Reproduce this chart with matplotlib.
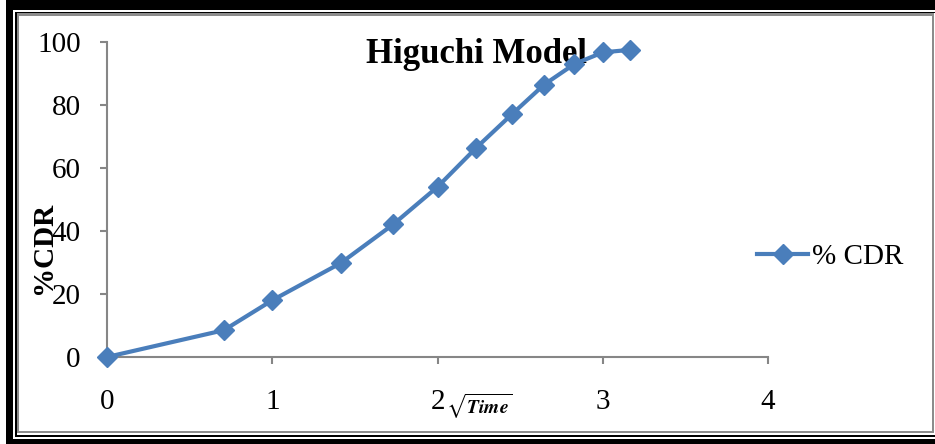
import matplotlib
matplotlib.use("Agg")
import matplotlib.pyplot as plt
from matplotlib.patches import Rectangle
import numpy as np

# ---- data ----
sqrt_time = [0, 0.707, 1, 1.414, 1.732, 2, 2.236, 2.449, 2.646, 2.828, 3, 3.162]
cdr = [0, 8.5, 18, 29.8, 42.1, 54, 66.5, 77, 86.5, 93, 96.7, 97.5]
x_ticks = [0, 1, 2, 3, 4]
y_ticks = [0, 20, 40, 60, 80, 100]
title = "Higuchi Model"
series_label = "% CDR"
y_label = "%CDR"
x_label = r"$\sqrt{\mathbfit{Time}}$"

W, H = 935, 444
plt.rcParams['font.family'] = ['Liberation Serif', 'DejaVu Serif']
plt.rcParams['mathtext.fontset'] = 'stix'

fig = plt.figure(figsize=(W / 100, H / 100), dpi=100)
fig.patch.set_facecolor('white')


def fx(px):
    return px / W


def fy(py):
    return 1 - py / H


def rect(x0, y0, x1, y1, color, z):
    fig.add_artist(Rectangle((fx(x0), fy(y1)), fx(x1) - fx(x0), fy(y0) - fy(y1),
                             transform=fig.transFigure, facecolor=color,
                             edgecolor='none', zorder=z))


# frame layers
rect(6, 0, 935, 444, 'black', -20)
rect(13, 10, 935, 439, 'white', -19)
rect(15, 12, 935, 437, 'black', -18)
rect(17, 13, 935, 435, 'white', -17)
rect(17, 13, 934, 433, '#8c8c8c', -16)
rect(19, 16, 932, 431, 'white', -15)

ax = fig.add_axes([fx(107), fy(357), fx(768) - fx(107), fy(42) - fy(357)])
ax.patch.set_alpha(0)
ax.set_xlim(0, 4)
ax.set_ylim(0, 100)

gray = '#868686'
for s in ['top', 'right']:
    ax.spines[s].set_visible(False)
for s in ['left', 'bottom']:
    ax.spines[s].set_color(gray)
    ax.spines[s].set_linewidth(1.5)

ax.set_xticks(x_ticks)
ax.set_yticks(y_ticks)
ax.tick_params(axis='both', direction='out', length=5, width=1.5, color=gray,
               labelsize=21, labelcolor='black')
ax.tick_params(axis='x', pad=18)
ax.tick_params(axis='y', pad=14)

ax.plot(sqrt_time, cdr, color='#4A7EBB', lw=3.0, marker='D', ms=10.5,
        mec='#4A7EBB', mfc='#4A7EBB', clip_on=False, zorder=5, label=series_label)

ax.text(fx(477), fy(63), title, transform=fig.transFigure, ha='center',
        va='baseline', fontsize=25, fontweight='bold', zorder=1)

fig.text(fx(43), fy(248), y_label, rotation=90, ha='center', va='center',
         fontsize=21, fontweight='bold')

fig.text(fx(446), fy(414), x_label, ha='left', va='baseline', fontsize=14)

ax.legend(loc='center left', bbox_to_anchor=(fx(757), fy(257)),
          bbox_transform=fig.transFigure, frameon=False, fontsize=21,
          borderpad=0, borderaxespad=0, handlelength=1.75, handletextpad=0.15)

fig.savefig('out.png', dpi=100)
